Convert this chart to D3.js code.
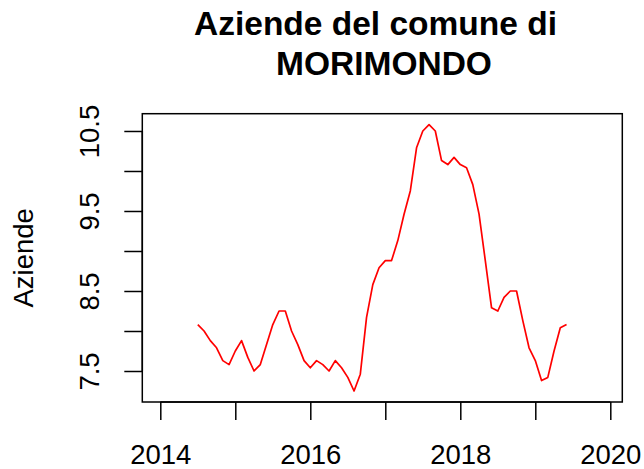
<!DOCTYPE html>
<html>
<head>
<meta charset="utf-8">
<script src="https://cdn.jsdelivr.net/npm/d3@7"></script>
<style>
  body { margin: 0; background: #fff; }
  text { font-family: "Liberation Sans", Arial, Helvetica, sans-serif; }
</style>
</head>
<body>
<div id="chart"></div>
<script>
// monthly series, July 2014 .. June 2019
const startYear = 2014.5;
const values = [
  8.08, 8.0, 7.88, 7.79, 7.63, 7.58, 7.75, 7.88, 7.67, 7.5,
  7.58, 7.83, 8.08, 8.25, 8.25, 8.0, 7.83, 7.63, 7.54, 7.63,
  7.58, 7.5, 7.63, 7.54, 7.42, 7.25, 7.46, 8.17, 8.58, 8.79,
  8.88, 8.88, 9.13, 9.46, 9.75, 10.29, 10.5, 10.58, 10.5, 10.13,
  10.08, 10.17, 10.08, 10.04, 9.83, 9.46, 8.88, 8.29, 8.25, 8.42,
  8.5, 8.5, 8.13, 7.79, 7.63, 7.38, 7.42, 7.75, 8.04, 8.08
];
const xTicks = [2014, 2015, 2016, 2017, 2018, 2019, 2020];
const xLabels = [2014, 2016, 2018, 2020];
const yTicks = [7.5, 8, 8.5, 9, 9.5, 10, 10.5];
const yLabels = [7.5, 8.5, 9.5, 10.5];

const data = values.map((v, i) => ({ t: startYear + i / 12, v: v }));

const width = 644;
const height = 469;
const box = { left: 142.3, right: 622.3, top: 113.7, bottom: 402 };

const svg = d3.select("#chart")
  .append("svg")
  .attr("width", width)
  .attr("height", height);

const x = d3.scaleLinear()
  .domain([2013.76, 2020.16])
  .range([box.left, box.right]);

const y = d3.scaleLinear()
  .domain([7.1125, 10.716])
  .range([box.bottom, box.top]);

// plot frame
svg.append("rect")
  .attr("x", box.left)
  .attr("y", box.top)
  .attr("width", box.right - box.left)
  .attr("height", box.bottom - box.top)
  .attr("fill", "none")
  .attr("stroke", "#000")
  .attr("stroke-width", 1.5);

// line
svg.append("path")
  .datum(data)
  .attr("fill", "none")
  .attr("stroke", "#ff0000")
  .attr("stroke-width", 1.7)
  .attr("stroke-linejoin", "round")
  .attr("d", d3.line().x(d => x(d.t)).y(d => y(d.v)));

// x axis
const gx = svg.append("g")
  .attr("transform", `translate(0,${box.bottom})`)
  .call(d3.axisBottom(x)
    .tickValues(xTicks)
    .tickSize(18)
    .tickSizeOuter(0)
    .tickPadding(24)
    .tickFormat(d => xLabels.includes(d) ? d : ""));

// y axis
const gy = svg.append("g")
  .attr("transform", `translate(${box.left},0)`)
  .call(d3.axisLeft(y)
    .tickValues(yTicks)
    .tickSize(18)
    .tickSizeOuter(0)
    .tickFormat(d => yLabels.includes(d) ? d3.format(".1f")(d) : ""));

gy.selectAll(".tick text")
  .attr("x", 0)
  .attr("y", -43)
  .attr("dy", 0)
  .attr("transform", "rotate(-90)")
  .attr("text-anchor", "middle");

[gx, gy].forEach(g => {
  g.select(".domain").remove();
  g.selectAll("line").attr("stroke", "#000").attr("stroke-width", 1.5);
  g.selectAll("text")
    .attr("fill", "#000")
    .style("font-size", "27.5px");
});

// axis lines from first to last tick
svg.append("line")
  .attr("x1", x(xTicks[0])).attr("x2", x(xTicks[xTicks.length - 1]))
  .attr("y1", box.bottom).attr("y2", box.bottom)
  .attr("stroke", "#000").attr("stroke-width", 1.5);
svg.append("line")
  .attr("x1", box.left).attr("x2", box.left)
  .attr("y1", y(yTicks[0])).attr("y2", y(yTicks[yTicks.length - 1]))
  .attr("stroke", "#000").attr("stroke-width", 1.5);

// y label
svg.append("text")
  .attr("transform", `translate(33,${(box.top + box.bottom) / 2}) rotate(-90)`)
  .attr("text-anchor", "middle")
  .style("font-size", "27.5px")
  .text("Aziende");

// title
svg.append("text")
  .attr("x", 375.5)
  .attr("y", 35)
  .attr("text-anchor", "middle")
  .style("font-size", "33.5px")
  .style("font-weight", "bold")
  .text("Aziende del comune di");
svg.append("text")
  .attr("x", 384)
  .attr("y", 75)
  .attr("text-anchor", "middle")
  .style("font-size", "33.5px")
  .style("font-weight", "bold")
  .text("MORIMONDO");
</script>
</body>
</html>
